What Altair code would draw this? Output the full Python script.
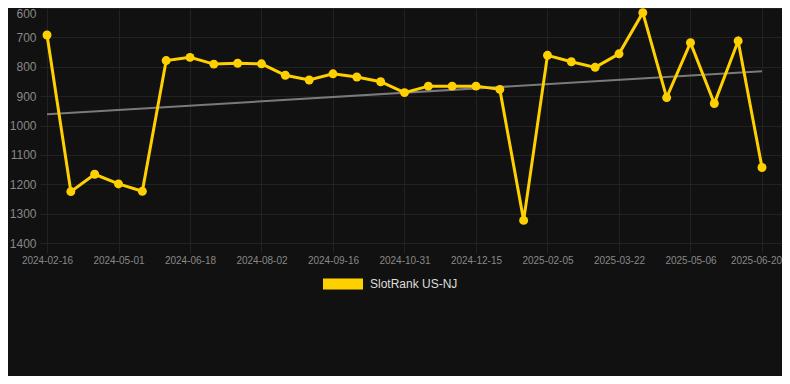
import altair as alt
import pandas as pd

# Values
ranks = [692, 1225, 1166, 1199, 1224, 779, 768, 791, 788, 790, 829, 845, 824,
         835, 851, 888, 866, 866, 866, 877, 1323, 761, 783, 802, 756, 616, 905,
         718, 925, 712, 1143]
tick_labels = ["2024-02-16", "2024-05-01", "2024-06-18", "2024-08-02",
               "2024-09-16", "2024-10-31", "2024-12-15", "2025-02-05",
               "2025-03-22", "2025-05-06", "2025-06-20"]
y_ticks = [600, 700, 800, 900, 1000, 1100, 1200, 1300, 1400]
trend_ends = [962, 815]
series_name = "SlotRank US-NJ"

YELLOW = "#FFD000"
BG = "#111111"
GRID = "#222222"
LABEL = "#888888"
FONT = "Liberation Sans"

n = len(ranks)
df = pd.DataFrame({"idx": list(range(n)), "rank": ranks, "series": [series_name] * n})
trend_df = pd.DataFrame({"idx": [0, n - 1], "rank": trend_ends})

tick_vals = [i * 3 for i in range(len(tick_labels))]
label_arr = "[" + ",".join("'" + t + "'" for t in tick_labels) + "]"

x_scale = alt.Scale(domain=[-0.294, 30.84], nice=False, zero=False)
y_scale = alt.Scale(domain=[600, 1400], reverse=True, nice=False, zero=False)

x_axis = alt.Axis(values=tick_vals, labelExpr=label_arr + "[round(datum.value/3)]",
                  title=None, domain=False, tickSize=10, tickColor=GRID,
                  gridColor=GRID, labelPadding=2, labelFontSize=10,
                  labelColor=LABEL, labelFont=FONT, labelAngle=0,
                  labelOffset={"condition": {"test": f"datum.value == {tick_vals[-1]}", "value": -6},
                               "value": 0})
y_axis = alt.Axis(values=y_ticks, title=None, domain=False, ticks=False,
                  format="d",
                  gridColor=GRID, labelPadding=4, labelFontSize=12,
                  labelColor=LABEL, labelFont=FONT,
                  labelOffset={"condition": {"test": "datum.value == 600", "value": 5},
                               "value": 0})

x_enc = alt.X("idx:Q", scale=x_scale, axis=x_axis)
y_enc = alt.Y("rank:Q", scale=y_scale, axis=y_axis)

trend = alt.Chart(trend_df).mark_line(color="#7a7a7a", strokeWidth=2).encode(
    x=alt.X("idx:Q", scale=x_scale, axis=x_axis),
    y=alt.Y("rank:Q", scale=y_scale, axis=y_axis),
)

line = alt.Chart(df).mark_line(color=YELLOW, strokeWidth=3).encode(x=x_enc, y=y_enc)

points = alt.Chart(df).mark_circle(size=80, opacity=1).encode(
    x=x_enc, y=y_enc,
    color=alt.Color("series:N", scale=alt.Scale(range=[YELLOW]),
                    legend=alt.Legend(orient="none", legendX=283, legendY=256,
                                      title=None, padding=0,
                                      symbolType="M-1,-0.275L1,-0.275L1,0.275L-1,0.275Z",
                                      symbolSize=1600, symbolStrokeWidth=0,
                                      symbolOpacity=1, labelFontSize=12,
                                      labelColor="#dddddd", labelFont=FONT,
                                      labelOffset=7)),
)

chart = alt.layer(trend, line, points).properties(
    width=742, height=235,
    padding={"left": 32, "top": 0, "right": 0, "bottom": 133},
    autosize="none",
    background=BG,
).configure_view(stroke=None)

chart.save("out.html", embed_options={"renderer": "svg", "actions": False})
